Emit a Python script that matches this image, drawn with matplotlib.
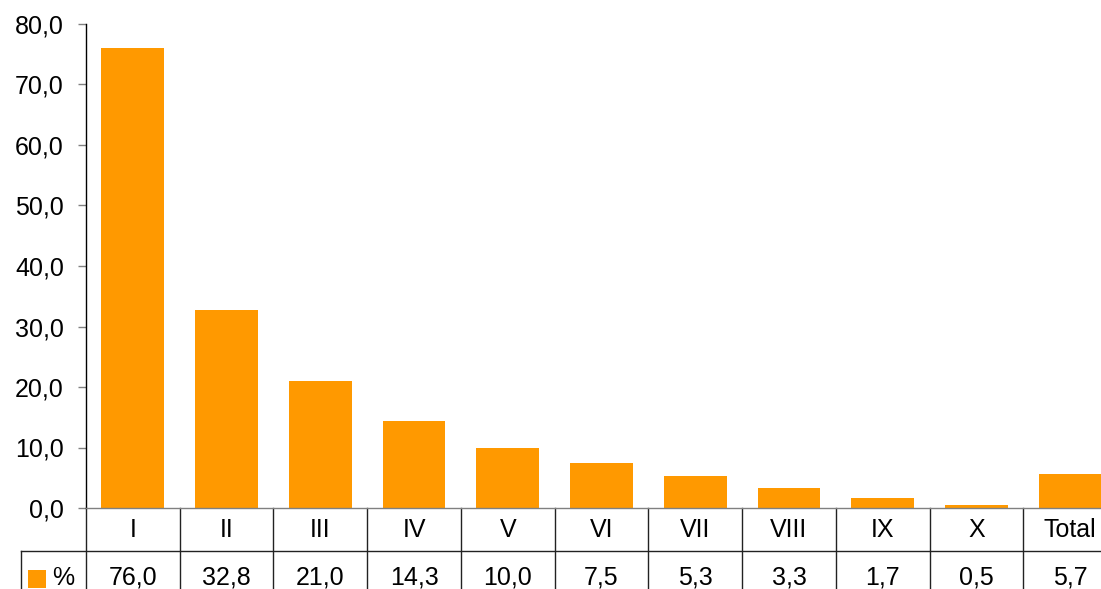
import matplotlib
matplotlib.use("Agg")
import matplotlib.pyplot as plt
from matplotlib.transforms import blended_transform_factory
from matplotlib.patches import Rectangle

categories = ["I", "II", "III", "IV", "V", "VI", "VII", "VIII", "IX", "X", "Total"]
values = [76.0, 32.8, 21.0, 14.3, 10.0, 7.5, 5.3, 3.3, 1.7, 0.5, 5.7]
series_name = "%"
yticks = [0, 10, 20, 30, 40, 50, 60, 70, 80]

plt.rcParams['font.family'] = ['Liberation Sans', 'DejaVu Sans']
FS = 18
W, H = 1101, 589
fig = plt.figure(figsize=(W / 100, H / 100), dpi=100)
left_px, right_px, top_px, bot_px = 86, 1117, 24, 508
ax = fig.add_axes([left_px / W, 1 - bot_px / H, (right_px - left_px) / W, (bot_px - top_px) / H])
color = "#FF9900"
x = list(range(len(categories)))
ax.bar(x, values, width=0.67, color=color, zorder=2)
ax.set_xlim(-0.5, len(categories) - 0.5)
ax.set_ylim(0, 80)
ax.set_yticks(yticks)
ax.set_yticklabels([f"{v:.1f}".replace(".", ",") for v in yticks], fontsize=FS)
ax.set_xticks([])
for s in ["top", "right"]:
    ax.spines[s].set_visible(False)
ax.spines["left"].set_color("black")
ax.spines["left"].set_linewidth(1.0)
ax.spines["bottom"].set_color("#808080")
ax.spines["bottom"].set_linewidth(1.0)
ax.tick_params(axis="y", direction="out", length=6, width=1, color="#808080", pad=10)

# data table below
tr = blended_transform_factory(ax.transData, fig.transFigure)
def fy(py):
    return 1 - py / H
line_c = "#222222"
row_split = 551
for k in range(len(categories) + 1):
    ax.plot([k - 0.5, k - 0.5], [fy(bot_px), fy(H + 5)], transform=tr, color=line_c,
            lw=1.0, clip_on=False)
ax.plot([21 / W, 1.02], [fy(row_split), fy(row_split)], transform=fig.transFigure,
        color=line_c, lw=1.0, clip_on=False)
ax.plot([21 / W, 21 / W], [fy(row_split), fy(H + 5)], transform=fig.transFigure,
        color=line_c, lw=1.0, clip_on=False)
for i, (c, v) in enumerate(zip(categories, values)):
    ax.text(i, fy(530), c, transform=tr, ha="center", va="center", fontsize=FS)
    ax.text(i, fy(578), f"{v:.1f}".replace(".", ","), transform=tr, ha="center",
            va="center", fontsize=FS)
# legend key
fig.patches.append(Rectangle((28 / W, fy(588)), 18 / W, 18 / H, transform=fig.transFigure,
                             facecolor=color, edgecolor="none"))
fig.text(52 / W, fy(578), series_name, ha="left", va="center", fontsize=FS)

fig.savefig("out.png", dpi=100)
